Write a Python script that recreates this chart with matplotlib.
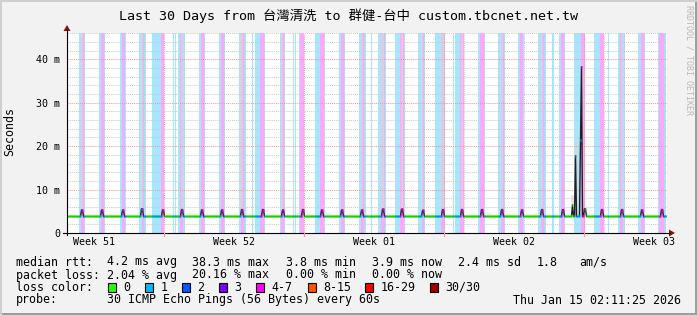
import numpy as np
import matplotlib.pyplot as plt
from matplotlib.lines import Line2D
from matplotlib.patches import Rectangle, Polygon
from matplotlib.collections import LineCollection

W, H = 697, 315
MONO = ['DejaVu Sans Mono', 'Noto Sans CJK TC']

# x axis in days since Dec 16 02:11:25 (now - 30 days)
n_days = 30
first_midnight = 0.865
first_sunday = 4.865
week_labels = ['Week 51', 'Week 52', 'Week 01', 'Week 02', 'Week 03']

# median rtt in ms
baseline_ms = 3.8
peak_day = [0.735, 1.735, 2.75, 3.735, 4.765, 5.735, 6.735, 7.735, 8.735, 9.75,
            10.75, 11.765, 12.735, 13.735, 14.735, 15.765, 16.735, 17.75, 18.765, 19.735,
            20.735, 21.735, 22.735, 23.735, 24.765, 25.85, 26.735, 27.735, 28.735, 29.735]
peak_ms = [5.3, 5.3, 5.3, 5.6, 5.3, 5.4, 5.3, 5.3, 5.4, 5.4,
           5.3, 5.4, 5.3, 5.3, 5.3, 5.5, 5.5, 5.2, 5.4, 5.4,
           5.4, 5.4, 5.3, 5.4, 5.4, 5.6, 5.4, 5.4, 5.3, 5.4]
spike_day = [25.28, 25.42, 25.67, 25.74]
spike_ms = [6.5, 17.8, 21.5, 38.3]

# smoke (min/max of pings) drawn as gray columns
smoke_day = [0.735, 3.735, 5.735, 8.735, 10.75, 14.735, 15.765, 16.735, 17.75,
             18.765, 19.735, 21.735, 23.735, 27.735, 25.27, 25.40, 25.50]
smoke_lo = [5.3, 5.6, 5.4, 5.4, 5.3, 5.3, 5.5, 5.5, 5.2,
            5.4, 5.4, 5.4, 5.4, 5.4, 6.5, 17.8, 4.0]
smoke_hi = [47, 47, 47, 47, 47, 47, 47, 47, 47,
            47, 47, 47, 47, 47, 8.7, 20.5, 21.5]

# periods with packet loss (shown as background)
loss1_bands = [(0.60, 0.90), (1.60, 1.90), (2.65, 2.95), (3.60, 3.95), (4.27, 4.87),
               (5.29, 5.34), (5.40, 5.47), (5.55, 5.90), (6.60, 6.90), (7.60, 7.90),
               (8.60, 8.94), (9.24, 9.30), (9.40, 9.90), (10.65, 10.90), (11.29, 11.34),
               (11.42, 11.47), (11.59, 11.87), (12.40, 12.90), (13.60, 13.90), (14.60, 14.97),
               (15.20, 15.24), (15.57, 15.94), (16.40, 16.90), (17.57, 17.90), (18.40, 18.90),
               (19.32, 19.37), (19.40, 19.87), (20.57, 20.90), (21.57, 21.90), (22.57, 22.87),
               (23.57, 23.94), (24.27, 24.34), (24.60, 24.90), (25.35, 25.69), (26.35, 26.87),
               (27.04, 27.10), (27.57, 27.90), (28.57, 28.90), (29.57, 29.94)]
loss4_bands = [(0.70, 0.84), (1.69, 1.84), (2.75, 2.89), (3.74, 3.87), (4.72, 4.84),
               (5.65, 5.82), (6.69, 6.84), (7.69, 7.84), (8.70, 8.85), (9.67, 9.87),
               (10.70, 10.84), (11.67, 11.84), (12.67, 12.84), (13.70, 13.85), (14.70, 14.85),
               (15.69, 15.90), (16.65, 16.87), (17.74, 17.87), (18.70, 18.87), (19.65, 19.87),
               (20.65, 20.87), (21.69, 21.84), (22.65, 22.80), (23.70, 23.87), (24.69, 24.85),
               (25.69, 25.90), (26.65, 26.87), (27.65, 27.82), (28.69, 28.85), (29.62, 29.87)]

loss_names = ['0', '1', '2', '3', '4-7', '8-15', '16-29', '30/30']
loss_colors = ['#26ff00', '#00b8ff', '#0059ff', '#7e00ff', '#ff00ff', '#ff5500', '#ff0000', '#a10000']

rtt_stats = ['4.2 ms avg', '38.3 ms max', '3.8 ms min', '3.9 ms now', '2.4 ms sd', '1.8', 'am/s']
loss_stats = ['2.04 % avg', '20.16 % max', '0.00 % min', '0.00 % now']
probe_text = '30 ICMP Echo Pings (56 Bytes) every 60s'
date_text = 'Thu Jan 15 02:11:25 2026'
title = 'Last 30 Days from 台灣清洗 to 群健-台中 custom.tbcnet.net.tw'

AX_FS = 7.2
LEG_FS = 8.4


def fx(x):
    return x / W


def fy(y):
    return 1 - y / H


fig = plt.figure(figsize=(W / 100, H / 100), dpi=100, facecolor='#f2f2f2')
ax = fig.add_axes([fx(67), fy(233), 600 / W, 200 / H])
ax.set_facecolor('white')
for s in ax.spines.values():
    s.set_visible(False)

# loss background
for a, b in loss1_bands:
    ax.axvspan(a, b, color='#a6e6ff', lw=0, zorder=0.5)
for a, b in loss4_bands:
    ax.axvspan(a, b, color='#ffa6ff', lw=0, zorder=0.6)

# smoke
ax.bar(smoke_day, np.array(smoke_hi) - np.array(smoke_lo), bottom=smoke_lo,
       width=0.12, color='#d9d9d9', alpha=0.7, lw=0, zorder=1)

# grid
dot = (0, (1, 1))
for y in range(2, 47, 2):
    if y % 10:
        ax.axhline(y, color='#cccccc', lw=0.75, ls=dot, zorder=2)
for y in range(10, 46, 10):
    ax.axhline(y, color='#f09a9a', lw=0.75, ls=dot, zorder=2.1)
for k in range(n_days):
    d = first_midnight + k
    if abs((d - first_sunday) % 7) < 1e-6:
        continue
    ax.axvline(d, color='#cccccc', lw=0.75, ls=dot, zorder=2)
for d in np.arange(first_sunday, n_days, 7):
    ax.axvline(d, color='#f09a9a', lw=0.75, ls=dot, zorder=2.1)

# median per pixel (72 minutes each)
npx = 600
xc = (np.arange(npx) + 0.5) / 20
med = np.full(npx, baseline_ms)
for d, v in zip(peak_day, peak_ms):
    i = int(d * 20)
    med[i] = v
    med[i + 1] = v
for d, v in zip(spike_day, spike_ms):
    med[int(d * 20)] = v

loss_idx = np.zeros(npx, dtype=int)
for a, b in loss1_bands:
    loss_idx[(xc >= a) & (xc <= b)] = 1
for a, b in loss4_bands:
    loss_idx[(xc >= a) & (xc <= b)] = 4

ax.plot(xc, med, color='#202020', lw=1.0, zorder=3)
segs = [[(i / 20, med[i]), ((i + 1) / 20, med[i])] for i in range(npx)]
lc = LineCollection(segs, colors=[loss_colors[k] for k in loss_idx], linewidths=1.8,
                    capstyle='butt', zorder=4)
ax.add_collection(lc)

# ticks and labels
ax.set_yticks([0, 10, 20, 30, 40])
ax.set_yticklabels(['0', '10 m', '20 m', '30 m', '40 m'], family=MONO, fontsize=AX_FS)
ax.set_xticks(first_sunday - 3.5 + 7 * np.arange(len(week_labels)))
ax.set_xticklabels(week_labels, family=MONO, fontsize=AX_FS)
ax.tick_params(axis='y', length=0, pad=5)
ax.tick_params(axis='x', length=0, pad=3)
ax.set_xlim(0, n_days)
ax.set_ylim(0, 46.06)

# axes lines and arrows
fig.add_artist(Line2D([fx(63), fx(670)], [fy(233), fy(233)], color='black', lw=0.8))
fig.add_artist(Line2D([fx(67), fx(67)], [fy(235), fy(30)], color='black', lw=0.8))
fig.add_artist(Polygon([(fx(669), fy(229.5)), (fx(675), fy(233)), (fx(669), fy(236.5))],
                       closed=True, color='#8b1010', lw=0))
fig.add_artist(Polygon([(fx(63.5), fy(31)), (fx(67), fy(25)), (fx(70.5), fy(31))],
                       closed=True, color='#8b1010', lw=0))
for d in np.arange(first_sunday, n_days, 7):
    xp = 67 + d * 20
    fig.add_artist(Line2D([fx(xp), fx(xp)], [fy(233), fy(236)], color='#f09a9a', lw=0.8))

# texts
fig.text(0.5, fy(16), title, family=MONO, fontsize=9.6, ha='center', va='center')
fig.text(fx(10), fy(131), 'Seconds', family=MONO, fontsize=LEG_FS, rotation=90,
         ha='center', va='center')
fig.text(fx(689), fy(5), 'RRDTOOL / TOBI OETIKER', family=MONO, fontsize=6,
         rotation=270, ha='center', va='top', color='#b8b8b8')


def ltext(x, y, s, **kw):
    fig.text(fx(x), fy(y), s, family=MONO, fontsize=LEG_FS, va='center', **kw)


ltext(16, 262, 'median rtt:')
for x, s in zip([107, 192, 286, 372, 458, 537, 579], rtt_stats):
    ltext(x, 262, s)
ltext(16, 275, 'packet loss:')
for x, s in zip([107, 192, 286, 372], loss_stats):
    ltext(x, 275, s)
ltext(16, 287.5, 'loss color:')
for x, name, c in zip([108, 145, 182, 219, 256, 308, 365, 430], loss_names, loss_colors):
    fig.add_artist(Rectangle((fx(x), fy(292)), 8 / W, 9 / H, facecolor=c,
                             edgecolor='black', lw=0.8))
    ltext(x + 15.5, 287.5, name)
ltext(16, 300, 'probe:')
ltext(107, 300, probe_text)
ltext(681, 300, date_text, ha='right')

# frame
fig.add_artist(Rectangle((0, 0), 1, 2 / H, color='#9e9e9e', lw=0))
fig.add_artist(Rectangle((1 - 2 / W, 0), 2 / W, 1, color='#9e9e9e', lw=0))
fig.add_artist(Rectangle((0, 1 - 2 / H), 1, 2 / H, color='#cfcfcf', lw=0))
fig.add_artist(Rectangle((0, 0), 2 / W, 1, color='#cfcfcf', lw=0))

fig.savefig('out.png', dpi=100, facecolor=fig.get_facecolor())
